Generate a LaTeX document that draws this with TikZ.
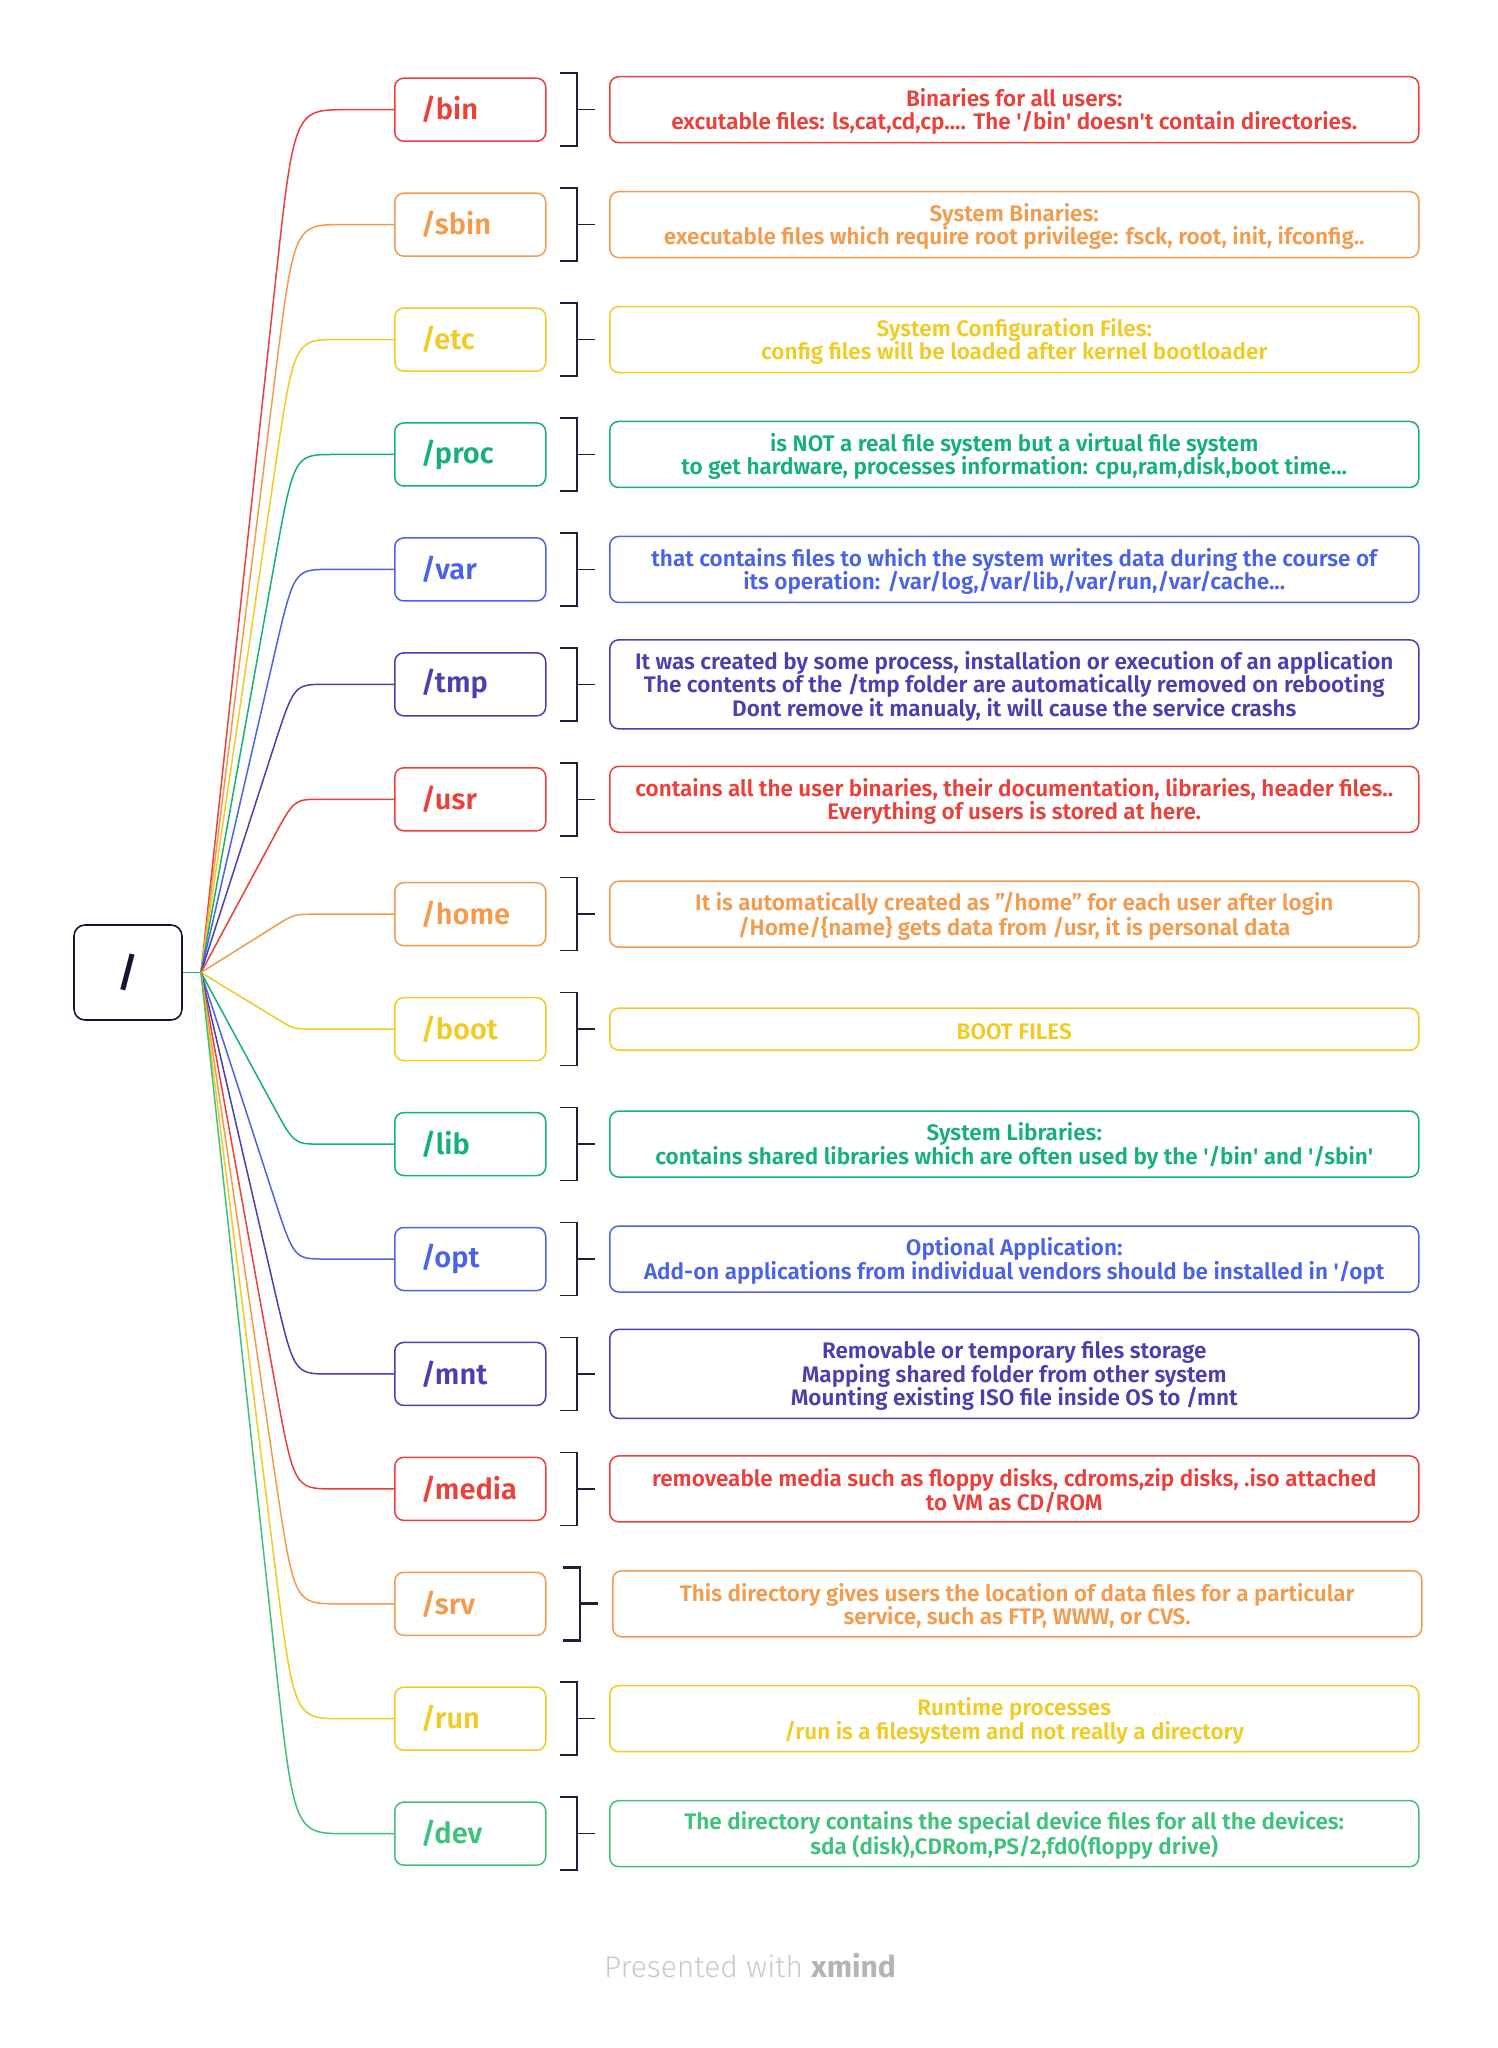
\documentclass[tikz,border=0pt]{standalone}
\usepackage{fontspec}
\usetikzlibrary{calc}
\setmainfont{Fira Sans}[UprightFont={* SemiBold},BoldFont={* Bold}]
\newfontfamily\footlight{Fira Sans}[UprightFont={* Light}]
\definecolor{cred}{HTML}{EB403A}
\definecolor{corange}{HTML}{F39A4C}
\definecolor{cyellow}{HTML}{F1CB24}
\definecolor{cgreen}{HTML}{14B07A}
\definecolor{cgreenl}{HTML}{3EC27B}
\definecolor{cblue}{HTML}{4A63E6}
\definecolor{cindigo}{HTML}{4A3FAE}
\definecolor{cnavy}{HTML}{141633}
\definecolor{cbrk}{HTML}{1E2038}
\definecolor{cgraya}{HTML}{C8C8C8}
\definecolor{cgrayb}{HTML}{B4B4B4}
\tikzset{
  branch/.style={draw=#1, text=#1, line width=1.5pt, rounded corners=9pt,
    minimum height=63pt, text width=99pt, inner xsep=26pt, align=left,
    anchor=west, font=\fontsize{29}{31}\selectfont},
  desc/.style={draw=#1, text=#1, line width=1.5pt, rounded corners=9pt,
    minimum width=809pt, inner ysep=3pt, align=center, anchor=west,
    font=\fontsize{22.5}{23.5}\selectfont},
  conn/.style={draw=#1, line width=1.5pt},
  brk/.style={draw=cbrk},
  rootbox/.style={draw=cnavy, text=cnavy, line width=1.6pt, rounded corners=11pt,
    minimum width=108pt, minimum height=95pt, font=\fontsize{40}{44}\selectfont}
}
\newcommand\q{\textquotesingle}
% #1 name, #2 index, #3 colour, #4 label, #5 min height, #6 text, #7 x shift, #8 bracket width
\newcommand\fsentry[8]{%
  \pgfmathsetmacro\yy{109.7+114.93*#2}%
  \pgfmathsetmacro\da{0.2*abs(\yy-972.5)+10}%
  \pgfmathsetmacro\db{20+4.3*abs(#2-7.5)}%
  \node[branch=#3] (#1) at (394,\yy) {#4};
  \node[desc=#3, minimum height=#5] (#1d) at (609+#7,\yy) {\rule{0pt}{22pt}#6};
  \coordinate (c#1) at (#1.west -| bend);
  \draw[conn=#3] (fan) -- ($(c#1)!\da pt!(fan)$) .. controls (c#1) .. ($(c#1)+(\db,0)$) -- (#1.west);
  \draw[brk, line width=#8] (560+#7,\yy-36.5) -- (577+#7,\yy-36.5) -- (577+#7,\yy+36.5) -- (560+#7,\yy+36.5);
  \coordinate (#1k) at (577+#7,\yy);
  \draw[brk, line width=#8] (#1k) -- ++(18,0);
}
\begin{document}
\begin{tikzpicture}[x=1pt,y=-1pt]
\useasboundingbox (0,0) rectangle (1498,2048);
\node[rootbox] (root) at (128,972.5) {/};
\coordinate (fan) at (201,972.5);
\coordinate (bend) at (294,0);
\draw[conn=cgreen] (root.east) -- (fan);

\fsentry{bin}{0}{cred}{/bin}{66pt}{Binaries for all users:\\excutable files: ls,cat,cd,cp.... The \q/bin\q{} doesn\q t contain directories.}{0}{1.5pt}
\fsentry{sbin}{1}{corange}{/sbin}{66pt}{System Binaries:\\executable files which require root privilege: fsck, root, init, ifconfig..}{0}{1.5pt}
\fsentry{etc}{2}{cyellow}{/etc}{66pt}{System Configuration Files:\\config files will be loaded after kernel bootloader}{0}{1.5pt}
\fsentry{proc}{3}{cgreen}{/proc}{66pt}{is NOT a real file system but a virtual file system\\to get hardware, processes information: cpu,ram,disk,boot time...}{0}{1.5pt}
\fsentry{var}{4}{cblue}{/var}{66pt}{that contains files to which the system writes data during the course of\\its operation: /var/log,/var/lib,/var/run,/var/cache...}{0}{1.5pt}
\fsentry{tmp}{5}{cindigo}{/tmp}{89pt}{It was created by some process, installation or execution of an application\\The contents of the /tmp folder are automatically removed on rebooting\\Dont remove it manualy, it will cause the service crashs}{0}{1.5pt}
\fsentry{usr}{6}{cred}{/usr}{66pt}{contains all the user binaries, their documentation, libraries, header files..\\Everything of users is stored at here.}{0}{1.5pt}
\fsentry{home}{7}{corange}{/home}{66pt}{It is automatically created as "/home" for each user after login\\/Home/\{name\} gets data from /usr, it is personal data}{0}{1.5pt}
\fsentry{boot}{8}{cyellow}{/boot}{42pt}{BOOT FILES}{0}{1.5pt}
\fsentry{lib}{9}{cgreen}{/lib}{66pt}{System Libraries:\\contains shared libraries which are often used by the \q/bin\q{} and \q/sbin\q}{0}{1.5pt}
\fsentry{opt}{10}{cblue}{/opt}{66pt}{Optional Application:\\Add-on applications from individual vendors should be installed in \q/opt}{0}{1.5pt}
\fsentry{mnt}{11}{cindigo}{/mnt}{89pt}{Removable or temporary files storage\\Mapping shared folder from other system\\Mounting existing ISO file inside OS to /mnt}{0}{1.5pt}
\fsentry{media}{12}{cred}{/media}{66pt}{removeable media such as floppy disks, cdroms,zip disks, .iso attached\\to VM as CD/ROM}{0}{1.5pt}
\fsentry{srv}{13}{corange}{/srv}{66pt}{This directory gives users the location of data files for a particular\\service, such as FTP, WWW, or CVS.}{3}{2.8pt}
\fsentry{run}{14}{cyellow}{/run}{66pt}{Runtime processes\\/run is a filesystem and not really a directory}{0}{1.5pt}
\fsentry{dev}{15}{cgreenl}{/dev}{66pt}{The directory contains the special device files for all the devices:\\sda (disk),CDRom,PS/2,fd0(floppy drive)}{0}{1.5pt}

\node[font=\fontsize{30}{33}\selectfont] (foot) at (750,1966) {{\footlight\color{cgraya}Presented with }{\bfseries\color{cgrayb}xmind}};
\end{tikzpicture}
\end{document}
